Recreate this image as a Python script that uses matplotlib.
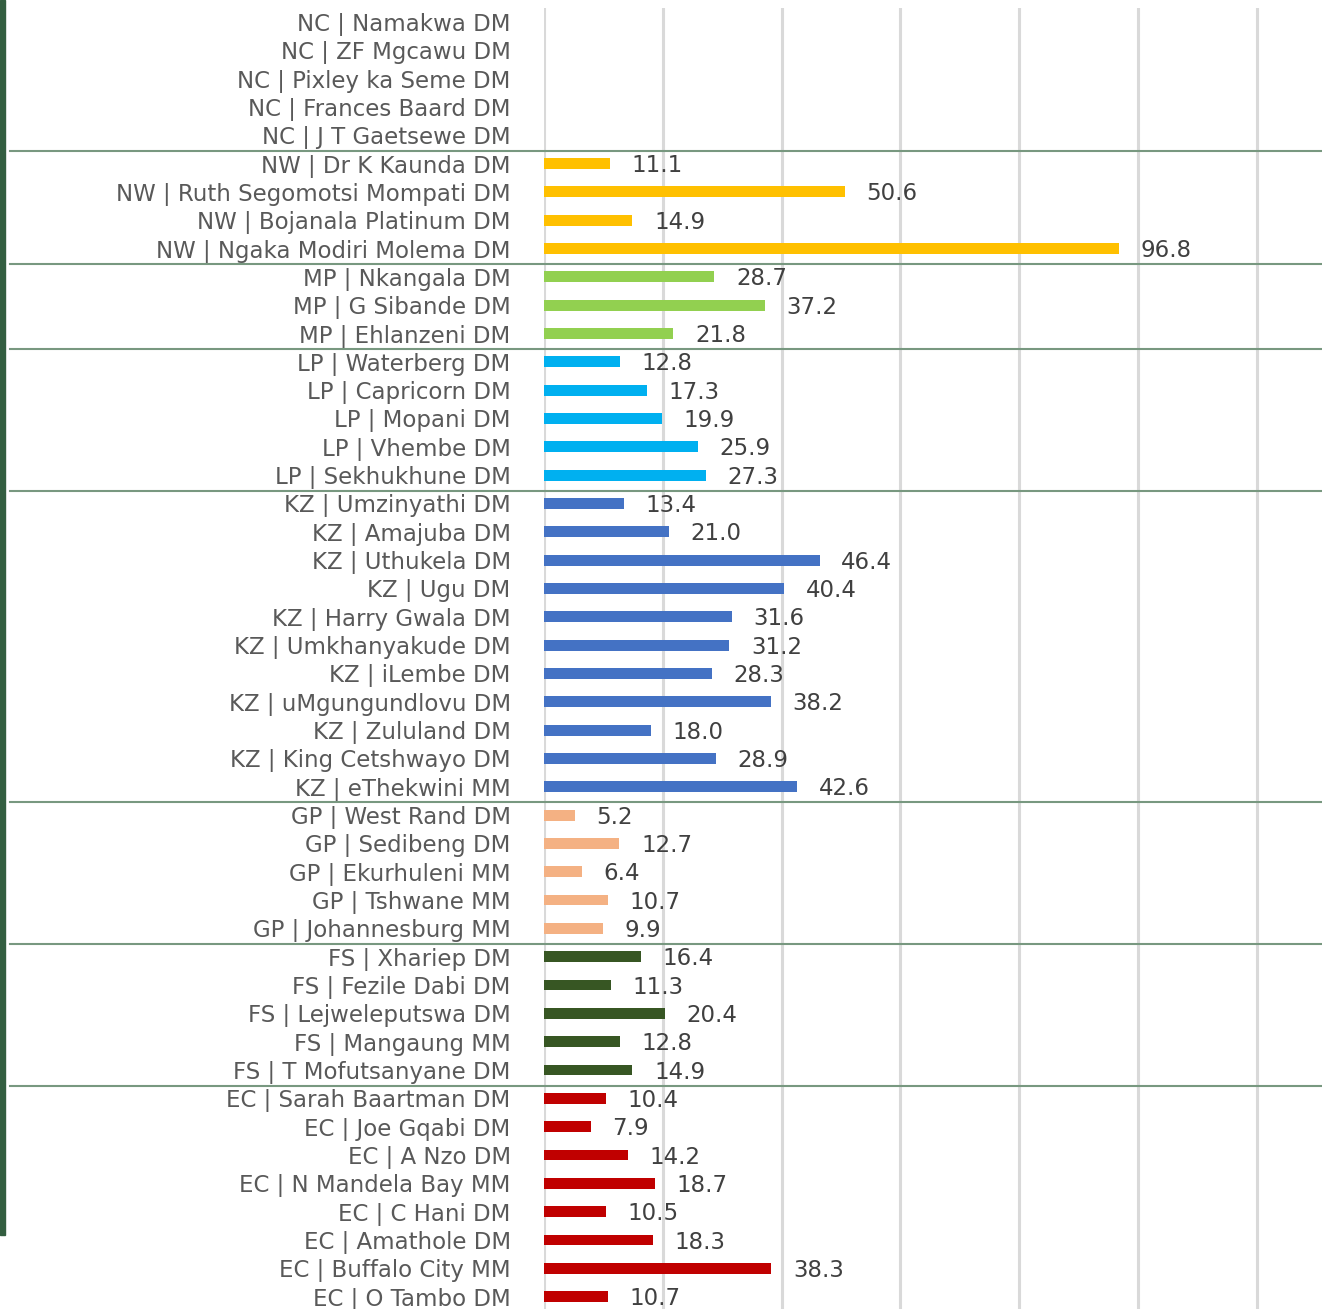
import matplotlib
matplotlib.use('Agg')
import matplotlib.pyplot as plt
from matplotlib.patches import Rectangle
from matplotlib.transforms import blended_transform_factory

# data, top to bottom by province group
provinces = ['NC', 'NW', 'MP', 'LP', 'KZ', 'GP', 'FS', 'EC']
districts = {
    'NC': ['Namakwa DM', 'ZF Mgcawu DM', 'Pixley ka Seme DM', 'Frances Baard DM', 'J T Gaetsewe DM'],
    'NW': ['Dr K Kaunda DM', 'Ruth Segomotsi Mompati DM', 'Bojanala Platinum DM', 'Ngaka Modiri Molema DM'],
    'MP': ['Nkangala DM', 'G Sibande DM', 'Ehlanzeni DM'],
    'LP': ['Waterberg DM', 'Capricorn DM', 'Mopani DM', 'Vhembe DM', 'Sekhukhune DM'],
    'KZ': ['Umzinyathi DM', 'Amajuba DM', 'Uthukela DM', 'Ugu DM', 'Harry Gwala DM', 'Umkhanyakude DM',
           'iLembe DM', 'uMgungundlovu DM', 'Zululand DM', 'King Cetshwayo DM', 'eThekwini MM'],
    'GP': ['West Rand DM', 'Sedibeng DM', 'Ekurhuleni MM', 'Tshwane MM', 'Johannesburg MM'],
    'FS': ['Xhariep DM', 'Fezile Dabi DM', 'Lejweleputswa DM', 'Mangaung MM', 'T Mofutsanyane DM'],
    'EC': ['Sarah Baartman DM', 'Joe Gqabi DM', 'A Nzo DM', 'N Mandela Bay MM', 'C Hani DM',
           'Amathole DM', 'Buffalo City MM', 'O Tambo DM'],
}
values = {
    'NC': [None, None, None, None, None],
    'NW': [11.1, 50.6, 14.9, 96.8],
    'MP': [28.7, 37.2, 21.8],
    'LP': [12.8, 17.3, 19.9, 25.9, 27.3],
    'KZ': [13.4, 21.0, 46.4, 40.4, 31.6, 31.2, 28.3, 38.2, 18.0, 28.9, 42.6],
    'GP': [5.2, 12.7, 6.4, 10.7, 9.9],
    'FS': [16.4, 11.3, 20.4, 12.8, 14.9],
    'EC': [10.4, 7.9, 14.2, 18.7, 10.5, 18.3, 38.3, 10.7],
}
colors = {
    'NC': '#A5A5A5', 'NW': '#FFC000', 'MP': '#92D050', 'LP': '#00B0F0',
    'KZ': '#4472C4', 'GP': '#F4B183', 'FS': '#375623', 'EC': '#C00000',
}
xticks = [0, 20, 40, 60, 80, 100, 120]

plt.rcParams['font.family'] = ['DejaVu Sans']

W, H = 1322, 1309
fig = plt.figure(figsize=(W / 100, H / 100), dpi=100)
ax = fig.add_axes([544 / W, -1.9 / H, (W - 544) / W, 1303.2 / H])

labels, ypos, seps = [], [], []
row = 0
for p in provinces:
    for name, v in zip(districts[p], values[p]):
        labels.append(f'{p} | {name}')
        ypos.append(row)
        if v is not None:
            ax.barh(row, v, height=0.38, color=colors[p], zorder=2)
            ax.annotate(f'{v:.1f}', (v, row), xytext=(15.5, -1.5), textcoords='offset points',
                        ha='left', va='center', fontsize=16.5, color='#404040')
        row += 1
    seps.append(row - 0.45)

ax.set_ylim(row - 0.5, -0.5)
ax.set_xlim(0, 131)
ax.set_yticks(ypos)
ax.set_yticklabels(labels, fontsize=16.5, color='#595959')
ax.set_xticks(xticks)
ax.tick_params(axis='y', length=0, pad=24)
ax.tick_params(axis='x', length=0, labelbottom=False)
ax.grid(axis='x', color='#D9D9D9', linewidth=2.2, zorder=0)
ax.set_axisbelow(True)
for s in ax.spines.values():
    s.set_visible(False)

# group separators, reaching under the labels
trans = blended_transform_factory(fig.transFigure, ax.transData)
for y in seps[:-1]:
    ax.plot([10 / W, 1.0], [y, y], transform=trans, color='#789880', linewidth=1.5,
            clip_on=False, zorder=3)

# dark strip at the left edge
fig.patches.append(Rectangle((0, 1 - 1235 / H), 5 / W, 1235 / H, transform=fig.transFigure,
                             color='#335E40', zorder=0))

fig.savefig('out.png', dpi=100)
